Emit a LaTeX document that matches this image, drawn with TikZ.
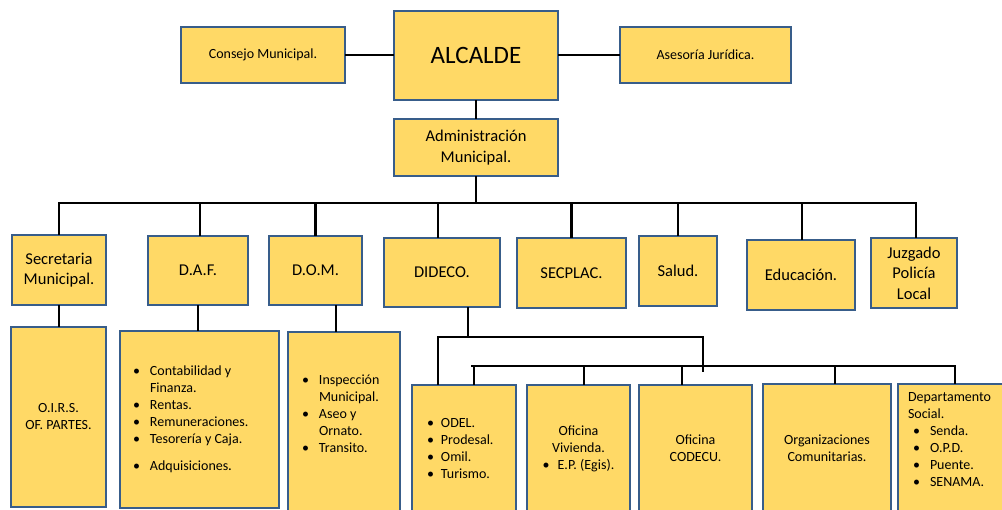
\documentclass[tikz,border=0pt]{standalone}
\usepackage{fontspec}
\setmainfont{Carlito}
\definecolor{BoxFill}{HTML}{FFD966}
\definecolor{BoxEdge}{HTML}{385D8A}
\newcommand\blt{\makebox[17pt][l]{\textbullet}}
\newcommand\bltind{\hspace*{17pt}}

\begin{document}
\begin{tikzpicture}[x=1pt,y=-1pt,
  unit/.style={draw=BoxEdge,fill=BoxFill,line width=2.5pt,align=center,inner sep=1pt,
    font=\fontsize{16.5}{20.5}\selectfont},
  subunit/.style={unit,font=\fontsize{14}{17}\selectfont},
  listunit/.style={subunit,align=flush left},
  link/.style={line width=2.8pt,line cap=rect}]
\useasboundingbox (0,0) rectangle (1002,510);

% top
\node[unit,minimum width=164pt,minimum height=89pt,font=\fontsize{25}{30}\selectfont] (alcalde) at (476,55.5) {ALCALDE};
\node[subunit,minimum width=164pt,minimum height=56pt] (consejo) at (263,55) {Consejo Municipal.};
\node[subunit,minimum width=171pt,minimum height=56pt] (asesoria) at (705.5,55) {Asesoría Jurídica.};
\node[unit,minimum width=164pt,minimum height=57pt] (admin) at (476,147.5) {Administración\\Municipal.};

% departments
\node[unit,minimum width=94pt,minimum height=70pt] (secretaria) at (59,270) {Secretaria\\Municipal.};
\node[unit,minimum width=100pt,minimum height=69pt] (daf) at (198,270.5) {D.A.F.};
\node[unit,minimum width=93pt,minimum height=69pt] (dom) at (315.5,270.5) {D.O.M.};
\node[unit,minimum width=116pt,minimum height=69pt] (dideco) at (442,272.5) {DIDECO.};
\node[unit,minimum width=109pt,minimum height=70pt] (secplac) at (571.5,273) {SECPLAC.};
\node[unit,minimum width=78pt,minimum height=70pt] (salud) at (678,271) {Salud.};
\node[unit,minimum width=108pt,minimum height=70pt] (educacion) at (801,275) {Educación.};
\node[unit,minimum width=86pt,minimum height=70pt] (juzgado) at (914,273) {Juzgado\\Policía\\Local};

% sections
\node[subunit,minimum width=95pt,minimum height=180pt] (oirs) at (58.5,417) {O.I.R.S.\\OF. PARTES.};
\node[listunit,minimum width=159pt,minimum height=177pt,inner xsep=13pt,text width=133pt] (dafList) at (199.5,419.5)
  {\blt Contabilidad y\\\bltind Finanza.\\\blt Rentas.\\\blt Remuneraciones.\\\blt Tesorería y Caja.\\[10pt]\blt Adquisiciones{\large\textbf{.}}};
\node[listunit,minimum width=112pt,minimum height=180pt,inner xsep=14pt,text width=84pt,text depth=84pt] (domList) at (344,422)
  {\blt Inspección\\\bltind Municipal.\\\blt Aseo y\\\bltind Ornato.\\\blt Transito.};
\node[listunit,minimum width=104pt,minimum height=127pt,inner xsep=15pt,text width=74pt] (odel) at (464,448.5)
  {\makebox[14pt][l]{\textbullet}ODEL.\\\makebox[14pt][l]{\textbullet}Prodesal.\\\makebox[14pt][l]{\textbullet}Omil.\\\makebox[14pt][l]{\textbullet}Turismo.};
\node[subunit,minimum width=103pt,minimum height=127pt] (vivienda) at (578.5,448.5) {Oficina\\Vivienda.\\\textbullet\hspace{8pt}E.P. (Egis).};
\node[subunit,minimum width=113pt,minimum height=127pt] (codecu) at (695.5,448.5) {Oficina\\CODECU.};
\node[subunit,minimum width=128pt,minimum height=128pt] (organiz) at (827,448) {Organizaciones\\Comunitarias.};
\node[listunit,minimum width=108pt,minimum height=128pt,inner xsep=10pt,text width=88pt,text depth=101pt] (depto) at (952,448)
  {Departamento\\Social.\\\hspace*{5pt}\blt Senda.\\\hspace*{5pt}\blt O.P.D.\\\hspace*{5pt}\blt Puente.\\\hspace*{5pt}\blt SENAMA.};

% connectors
\coordinate (busL) at (59,203);
\coordinate (busR) at (914,203);
\draw[link] (consejo.east) -- (consejo.east -| alcalde.west);
\draw[link] (alcalde.east |- asesoria.west) -- (asesoria.west);
\draw[link] (alcalde.south) -- (admin.north);
\draw[link] (admin.south) -- (admin.south |- busL);
\draw[link] (busL) -- (busR);
\foreach \n/\dx in {secretaria/0,daf/2,dom/0,dideco/-4,secplac/0,salud/0,educacion/1,juzgado/2}
  \draw[link] ([xshift=\dx pt]\n.north) -- ([xshift=\dx pt]\n.north |- busL);

\draw[link] (secretaria.south) -- (oirs.north -| secretaria.south);
\draw[link] (daf.south) -- (dafList.north -| daf.south);
\draw[link] (dom.south -| 336,0) -- (domList.north -| 336,0);

\coordinate (didJoin) at (468,337);
\coordinate (didL) at (438,337);
\coordinate (didR) at (703,337);
\coordinate (didEnd) at (703,371);
\coordinate (busTwoL) at (472,366);
\coordinate (busTwoR) at (955,366);
\draw[link] (dideco.south -| didJoin) -- (didJoin);
\draw[link] (odel.north -| didL) |- (didR) -- (didEnd);
\draw[link] (busTwoL) -- (busTwoR);
\foreach \n/\x in {odel/474,vivienda/584,codecu/682,organiz/835,depto/955}
  \draw[link] (\n.north -| \x,0) -- (busTwoL -| \x,0);
\end{tikzpicture}
\end{document}
